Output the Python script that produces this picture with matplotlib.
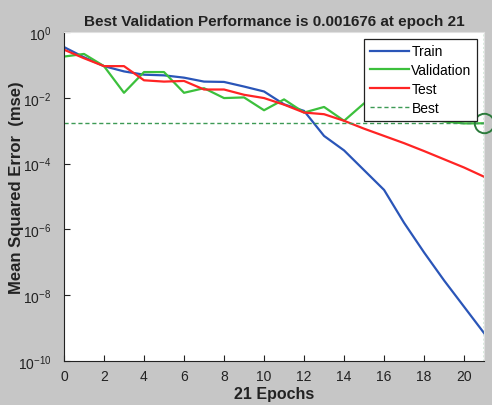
import numpy as np
import matplotlib
matplotlib.use('Agg')
import matplotlib.pyplot as plt

plt.rcParams['font.family'] = ['Liberation Sans', 'DejaVu Sans']

# log10 of mse per epoch
epochs = list(range(22))
train_log = [-0.46, -0.77, -1.04, -1.20, -1.30, -1.32, -1.39, -1.51, -1.52, -1.66, -1.81,
             -2.20, -2.40, -3.16, -3.60, -4.20, -4.80, -5.80, -6.70, -7.55, -8.35, -9.15]
val_log = [-0.75, -0.67, -1.04, -1.85, -1.22, -1.22, -1.85, -1.71, -2.01, -1.99, -2.38,
           -2.05, -2.45, -2.28, -2.70, -2.17, -2.60, -2.50, -2.60, -2.72, -2.78, -2.776]
test_log = [-0.54, -0.80, -1.04, -1.04, -1.47, -1.51, -1.49, -1.75, -1.75, -1.91, -2.01,
            -2.21, -2.45, -2.50, -2.70, -2.94, -3.16, -3.38, -3.62, -3.87, -4.12, -4.40]
best_epoch = 21
best_perf = 0.001676

train = 10 ** np.array(train_log)
val = 10 ** np.array(val_log)
test = 10 ** np.array(test_log)

bg = '#c6c6c6'
fig = plt.figure(figsize=(4.92, 4.06), dpi=100, facecolor=bg)
ax = fig.add_axes([0.130, 0.108, 0.854, 0.811])
ax.set_facecolor('white')

ax.semilogy(epochs, train, color='#2a55b8', lw=1.6, label='Train')
ax.semilogy(epochs, val, color='#3cc03c', lw=1.6, label='Validation')
ax.semilogy(epochs, test, color='#ff2424', lw=1.6, label='Test')
ax.axhline(best_perf, color='#3d9a55', lw=1.0, ls=(0, (3, 2)), label='Best')
ax.axvline(best_epoch, color='#3d9a55', lw=1.0, ls=(0, (1.5, 1.5)))
ax.plot([best_epoch], [best_perf], 'o', ms=14, mfc='none', mec='#2a7a3a', mew=1.4,
        clip_on=False, zorder=5)

ax.set_xlim(0, 21)
ax.set_ylim(1e-10, 1)
ax.set_xticks(range(0, 21, 2))
ax.set_yticks([10.0 ** k for k in range(-10, 1, 2)])
ax.yaxis.set_minor_locator(matplotlib.ticker.NullLocator())
ax.tick_params(direction='in', length=4, labelsize=10, colors='#222222')
ax.tick_params(axis='x', pad=6)
ax.tick_params(axis='y', pad=9)
for s in ['left', 'bottom']:
    ax.spines[s].set_color('#222222')
for s in ['top', 'right']:
    ax.spines[s].set_color('#e0e0e0')

ax.set_title('Best Validation Performance is 0.001676 at epoch 21',
             fontsize=11, fontweight='bold', color='#222222', pad=5)
ax.set_xlabel('21 Epochs', fontsize=11.5, fontweight='bold', color='#222222', labelpad=2)
ax.set_ylabel('Mean Squared Error  (mse)', fontsize=12, fontweight='bold', color='#222222')
ax.yaxis.set_label_coords(-0.095, 0.53)

leg = ax.legend(loc='upper right', fontsize=10, fancybox=False, framealpha=1,
                edgecolor='#222222', handlelength=2.8, borderaxespad=0.5,
                labelspacing=0.35, handletextpad=0.2)
leg.get_frame().set_linewidth(0.9)

fig.savefig('out.png', dpi=100, facecolor=bg)
